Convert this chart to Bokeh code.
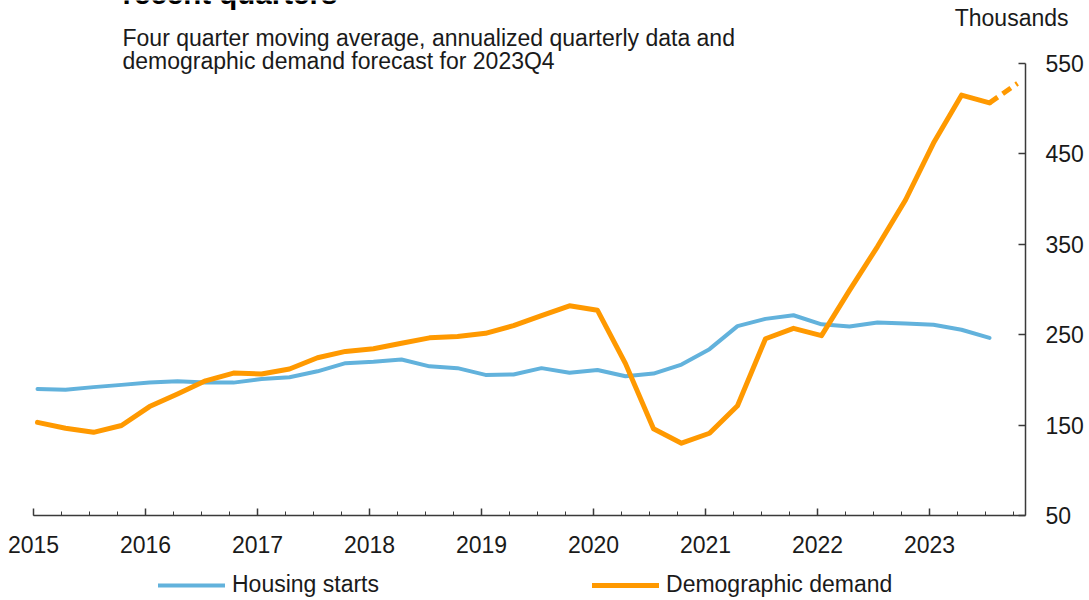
from bokeh.plotting import figure
from bokeh.models import Range1d, FixedTicker, Legend, LegendItem, Label, ColumnDataSource
from bokeh.embed import file_html
from bokeh.resources import INLINE

# ---------------- data ----------------
years = [2015, 2016, 2017, 2018, 2019, 2020, 2021, 2022, 2023]
quarters = [f"{y}Q{q}" for y in years for q in (1, 2, 3, 4)]  # 2015Q1 .. 2023Q4

# Housing starts, thousands (four-quarter moving average), 2015Q1 .. 2023Q3
housing_starts = [190, 189, 192, 194.5, 197, 198.5, 197, 197,
                  201, 203, 209.5, 218.5, 220, 222.5, 215, 213,
                  205.5, 206, 213, 208, 211, 204, 207, 217,
                  234, 259.5, 267.5, 271.5, 261.5, 259, 263.5, 262.5,
                  261, 255.5, 246.5]

# Demographic demand, thousands, 2015Q1 .. 2023Q3 (actual)
demographic_demand = [153, 146.5, 142, 149.5, 170.5, 184.5, 199, 207.5,
                      206.5, 212, 224.5, 231.5, 234.5, 240.5, 246.5, 248,
                      251.5, 260, 271, 282, 277, 218, 146, 130,
                      141, 171.5, 245.5, 257, 249, 299, 347.5, 399,
                      462, 515, 506.5]
# Forecast for 2023Q4
demographic_forecast = {"2023Q4": 528}

y_ticks = [50, 150, 250, 350, 450, 550]
y_min, y_max = 50, 550

# ---------------- layout constants (pixels) ----------------
W, H = 1089, 600
AX_LEFT, AX_RIGHT, AX_TOP, AX_BOTTOM = 33, 1025, 63, 515
PX_PER_YEAR = 112.0
PX_PER_UNIT = (AX_BOTTOM - AX_TOP) / (y_max - y_min)
X_START = years[0]
X_END = X_START + (AX_RIGHT - AX_LEFT) / PX_PER_YEAR

def qpos(label):
    y, q = int(label[:4]), int(label[-1])
    return y + (q - 1) / 4 + 4 / PX_PER_YEAR

FONT = "Liberation Sans"
ORANGE = "#FF9900"
BLUE = "#62B2DC"
AXIS_C = "#3a3a3a"
TEXT_C = "#1a1a1a"

hs_src = ColumnDataSource(dict(x=[qpos(q) for q in quarters[:len(housing_starts)]],
                               y=housing_starts))
dd_src = ColumnDataSource(dict(x=[qpos(q) for q in quarters[:len(demographic_demand)]],
                               y=demographic_demand))
fc_q = list(demographic_forecast.keys())[0]
fc_src = ColumnDataSource(dict(x=[qpos(quarters[len(demographic_demand) - 1]), qpos(fc_q)],
                               y=[demographic_demand[-1], demographic_forecast[fc_q]]))

# ---------------- figure (frame covers the whole canvas, axes at fixed locations) ----------------
x_range = Range1d(X_START - AX_LEFT / PX_PER_YEAR, X_START + (W - AX_LEFT) / PX_PER_YEAR)
y_range = Range1d(y_min - (H - AX_BOTTOM) / PX_PER_UNIT, y_max + AX_TOP / PX_PER_UNIT)

p = figure(width=W, height=H, output_backend="svg", toolbar_location=None,
           x_range=x_range, y_range=y_range, y_axis_location="right",
           min_border_left=0, min_border_right=0, min_border_top=0, min_border_bottom=0)
p.outline_line_color = None
p.xgrid.grid_line_color = None
p.ygrid.grid_line_color = None
p.background_fill_color = "white"
p.border_fill_color = "white"

r_hs = p.line("x", "y", source=hs_src, line_color=BLUE, line_width=4,
              line_join="round", line_cap="round")
r_dd = p.line("x", "y", source=dd_src, line_color=ORANGE, line_width=5,
              line_join="round", line_cap="round")
p.line("x", "y", source=fc_src, line_color=ORANGE, line_width=5, line_dash="10 6")

# x axis (below, pinned at y = 50)
xa = p.xaxis[0]
xa.fixed_location = y_min
xa.bounds = (X_START, X_END)
xa.ticker = FixedTicker(ticks=years, minor_ticks=[qpos(q) - 4 / PX_PER_YEAR for q in quarters])
xa.axis_line_color = AXIS_C
xa.axis_line_width = 1.5
xa.major_tick_line_color = AXIS_C
xa.major_tick_line_width = 1.5
xa.minor_tick_line_color = AXIS_C
xa.major_tick_in = 7
xa.major_tick_out = 0
xa.minor_tick_in = 4
xa.minor_tick_out = 0
xa.major_label_text_font = FONT
xa.major_label_text_font_size = "23px"
xa.major_label_text_color = TEXT_C
xa.major_label_standoff = 20

# y axis (right, pinned at the right end of the x axis)
ya = p.yaxis[0]
ya.fixed_location = X_END
ya.bounds = (y_min, y_max)
ya.ticker = FixedTicker(ticks=y_ticks, minor_ticks=[])
ya.axis_line_color = AXIS_C
ya.axis_line_width = 1.5
ya.major_tick_line_color = AXIS_C
ya.major_tick_line_width = 1.5
ya.major_tick_in = 7
ya.major_tick_out = 0
ya.minor_tick_line_color = None
ya.major_label_text_font = FONT
ya.major_label_text_font_size = "23px"
ya.major_label_text_color = TEXT_C
ya.major_label_standoff = 20

# texts: screen units relative to the frame (x from left, y up from bottom)
def add_label(text, x, y_base, size_px, bold=False, align="left", color=TEXT_C):
    y_corr = y_base - 0.38 * size_px
    p.add_layout(Label(x=x, y=H - y_corr, x_units="screen", y_units="screen", text=text,
                       text_font=FONT, text_font_size=f"{size_px}px",
                       text_font_style="bold" if bold else "normal",
                       text_align=align, text_baseline="alphabetic", text_color=color))

add_label("recent quarters", 122, 4, 29.5, bold=True, color="#000000")
add_label("Four quarter moving average, annualized quarterly data and", 122, 46.5, 23)
add_label("demographic demand forecast for 2023Q4", 122, 69.5, 23)
add_label("Thousands", 1068, 26, 23, align="right")

legend = Legend(items=[LegendItem(label="Housing starts", renderers=[r_hs]),
                       LegendItem(label="Demographic demand", renderers=[r_dd])],
                orientation="horizontal", location=(158, 2), spacing=213,
                glyph_width=67, glyph_height=20, label_standoff=7,
                label_text_font=FONT, label_text_font_size="23px", label_text_color=TEXT_C,
                padding=0, margin=0, border_line_alpha=0, background_fill_alpha=0)
p.add_layout(legend, "center")

open("out.html", "w").write(file_html(p, INLINE))
